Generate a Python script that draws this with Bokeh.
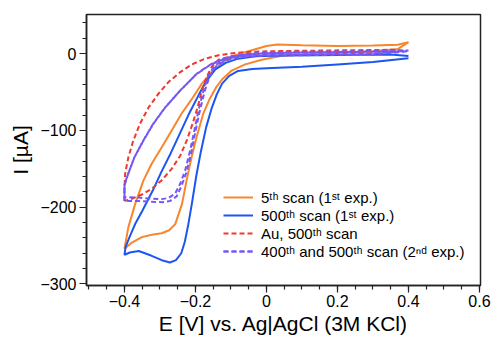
from bokeh.plotting import figure
from bokeh.models import (FixedTicker, CustomJSTickFormatter, Legend, LegendItem, Range1d)
from bokeh.embed import file_html
from bokeh.resources import INLINE

# ---- data ----
# 5th scan (1st exp.)  -- orange
orange_x = [-0.40, -0.389, -0.37, -0.3465, -0.323, -0.295, -0.267, -0.239, -0.21, -0.182, -0.154, -0.126,
            -0.088, -0.041, 0.0, 0.03, 0.1, 0.2, 0.3, 0.37, 0.40,
            0.37, 0.3, 0.2, 0.1, 0.04, -0.013, -0.06, -0.098, -0.124, -0.142, -0.16, -0.178, -0.197,
            -0.211, -0.225, -0.238, -0.257, -0.274, -0.295, -0.323, -0.351, -0.379, -0.40]
orange_y = [-254, -226, -196, -165, -143, -122, -100, -78, -59, -39, -24, -12,
            -2, 4.5, 10, 12, 11, 10, 10.5, 11.5, 15,
            6, 3, 1, -1, -3, -8, -14, -22, -33, -44, -59, -78, -109,
            -135, -165, -196, -222, -230, -234, -236, -239, -246, -254]

# 500th scan (1st exp.) -- blue
blue_x = [0.40, 0.30, 0.20, 0.10, 0.00, -0.04, -0.08, -0.105, -0.125, -0.14, -0.155, -0.17, -0.185, -0.198,
          -0.21, -0.22, -0.23, -0.24, -0.255, -0.272, -0.295, -0.325, -0.36, -0.385, -0.40,
          -0.397, -0.385, -0.37, -0.35, -0.32, -0.295, -0.27, -0.248, -0.22, -0.19, -0.17, -0.145,
          -0.115, -0.08, -0.03, 0.05, 0.15, 0.25, 0.35, 0.40]
blue_y = [-6, -11, -14, -17, -19, -20, -22.5, -29, -39, -53, -72, -96, -128, -160,
          -195, -222, -245, -260, -269, -272, -269, -263, -257, -259, -262,
          -252, -238, -222, -205, -178, -153, -130, -108, -80, -53, -36, -21,
          -12, -6.5, -3.5, -2.5, -2, -1.5, -1, -3]

# Au, 500th scan -- red dashed
red_x = [-0.40, -0.40, -0.398, -0.389, -0.375, -0.356, -0.332, -0.304, -0.276, -0.243, -0.21, -0.173,
         -0.135, -0.088, -0.041, 0.05, 0.15, 0.25, 0.35, 0.39,
         0.3, 0.2, 0.1, 0.0, -0.05, -0.1, -0.135, -0.154, -0.168, -0.182, -0.194, -0.208, -0.2245,
         -0.243, -0.267, -0.295, -0.323, -0.351, -0.379, -0.40]
red_y = [-192, -174, -156, -135, -113, -91, -70, -52, -37, -24, -14, -6.5,
         -2, 1, 2.5, 3.5, 4, 4.5, 5, 4,
         2.5, 2, 1.5, 0.5, -1, -3.5, -8, -17, -30, -48, -70, -91, -113,
         -133, -150, -165, -176, -183.5, -189, -192]

# 400th scan (2nd exp.) -- purple dashed
purple400_x = [-0.40, -0.40, -0.389, -0.372, -0.3465, -0.318, -0.285, -0.243, -0.196, -0.154, -0.107, -0.051,
               0.006, 0.1, 0.2, 0.3, 0.40,
               0.3, 0.2, 0.1, 0.0, -0.0225, -0.079, -0.116, -0.1445, -0.1634, -0.1775, -0.1915, -0.203,
               -0.215, -0.229, -0.243, -0.2575, -0.276, -0.295, -0.323, -0.36, -0.40]
purple400_y = [-187, -170, -156, -135, -113, -91, -70, -48, -26, -13, -4.5, 0,
               1.5, 2.5, 3, 3.5, 4,
               0, -0.5, -1, -1.5, -2, -3.5, -7.5, -15, -28, -48, -74, -100,
               -126, -152, -169.5, -182.5, -188, -189.5, -189, -187.5, -187]

# 500th scan (2nd exp.) -- purple dashed
purple500_x = [-0.40, -0.40, -0.39, -0.373, -0.348, -0.32, -0.287, -0.245, -0.198, -0.156, -0.109, -0.053,
               0.004, 0.1, 0.2, 0.3, 0.40,
               0.3, 0.2, 0.1, 0.0, -0.02, -0.076, -0.113, -0.141, -0.16, -0.174, -0.188, -0.2,
               -0.211, -0.225, -0.239, -0.253, -0.272, -0.292, -0.32, -0.36, -0.40]
purple500_y = [-192, -172, -157, -136, -114, -92, -71, -49, -27, -14, -5, -1,
               0.5, 1.5, 2, 2.5, 3,
               -1, -1.5, -2, -2.5, -3, -4.5, -8.5, -16, -29, -49, -75, -101,
               -127, -154, -172, -186, -192, -193.5, -193, -192, -192]

x_major = [-0.4, -0.2, 0.0, 0.2, 0.4, 0.6]
x_minor = [-0.5, -0.45, -0.4, -0.35, -0.3, -0.25, -0.2, -0.15, -0.1, -0.05, 0.0, 0.05, 0.1, 0.15,
           0.2, 0.25, 0.3, 0.35, 0.4, 0.45, 0.5, 0.55, 0.6]
y_major = [-300, -200, -100, 0]
y_minor = [-300, -280, -260, -240, -220, -200, -180, -160, -140, -120, -100, -80, -60, -40, -20,
           0, 20, 40]

labels = ["5\u1d57\u02b0 scan (1\u02e2\u1d57 exp.)",
          "500\u1d57\u02b0 scan (1\u02e2\u1d57 exp.)",
          "Au, 500\u1d57\u02b0 scan",
          "400\u1d57\u02b0 and 500\u1d57\u02b0 scan (2\u207f\u1d48 exp.)"]

ORANGE = "#f7862c"
BLUE = "#1d55f0"
RED = "#ee3a2c"
PURPLE = "#7657f5"
FONT = "Liberation Sans"

p = figure(width=491, height=342, output_backend="svg", toolbar_location=None,
           x_range=Range1d(-0.507, 0.603), y_range=Range1d(-302, 51),
           min_border_left=86, min_border_right=11, min_border_top=14, min_border_bottom=57)
p.grid.visible = False
p.outline_line_color = "#222222"
p.outline_line_width = 1.5
p.background_fill_color = "white"
p.border_fill_color = "white"

r_or = p.line(orange_x, orange_y, line_color=ORANGE, line_width=2)
r_bl = p.line(blue_x, blue_y, line_color=BLUE, line_width=2)
r_rd = p.line(red_x, red_y, line_color=RED, line_width=2, line_dash="5 3")
r_p4 = p.line(purple400_x, purple400_y, line_color=PURPLE, line_width=2, line_dash="5 3")
r_p5 = p.line(purple500_x, purple500_y, line_color=PURPLE, line_width=2, line_dash="5 3")

xa = p.xaxis[0]
ya = p.yaxis[0]
xa.ticker = FixedTicker(ticks=x_major, minor_ticks=x_minor)
ya.ticker = FixedTicker(ticks=y_major, minor_ticks=y_minor)
xa.formatter = CustomJSTickFormatter(code="""
    if (Math.abs(tick) < 1e-9) return "0";
    return tick.toFixed(1).replace("-", "\u2212");
""")
ya.formatter = CustomJSTickFormatter(code="""
    if (Math.abs(tick) < 1e-9) return "0";
    return tick.toFixed(0).replace("-", "\u2212");
""")
for ax in (xa, ya):
    ax.axis_line_color = "#222222"
    ax.axis_line_width = 1.5
    ax.major_tick_line_color = "#222222"
    ax.minor_tick_line_color = "#222222"
    ax.major_tick_line_width = 1.2
    ax.minor_tick_line_width = 1.2
    ax.major_tick_in = 0
    ax.major_tick_out = 7
    ax.minor_tick_in = 0
    ax.minor_tick_out = 4
    ax.major_label_text_font = FONT
    ax.major_label_text_font_size = "16px"
    ax.major_label_text_color = "black"
    ax.axis_label_text_font = FONT
    ax.axis_label_text_font_size = "21px"
    ax.axis_label_text_font_style = "normal"
    ax.axis_label_text_color = "black"
xa.axis_label = "E [V] vs. Ag|AgCl (3M KCl)"
ya.axis_label = "I [\u00b5A]"
xa.major_label_standoff = 2
xa.axis_label_standoff = 2
ya.major_label_standoff = 3
ya.axis_label_standoff = 5

legend = Legend(items=[
    LegendItem(label=labels[0], renderers=[r_or]),
    LegendItem(label=labels[1], renderers=[r_bl]),
    LegendItem(label=labels[2], renderers=[r_rd]),
    LegendItem(label=labels[3], renderers=[r_p4, r_p5]),
], location=(137, 25))
legend.border_line_color = None
legend.background_fill_alpha = 0
legend.padding = 0
legend.margin = 0
legend.spacing = 0
legend.glyph_width = 30
legend.glyph_height = 18
legend.label_height = 18
legend.label_standoff = 8
legend.label_text_font = FONT
legend.label_text_font_size = "15px"
legend.label_text_color = "black"
p.add_layout(legend)

open("out.html", "w").write(file_html(p, INLINE))
